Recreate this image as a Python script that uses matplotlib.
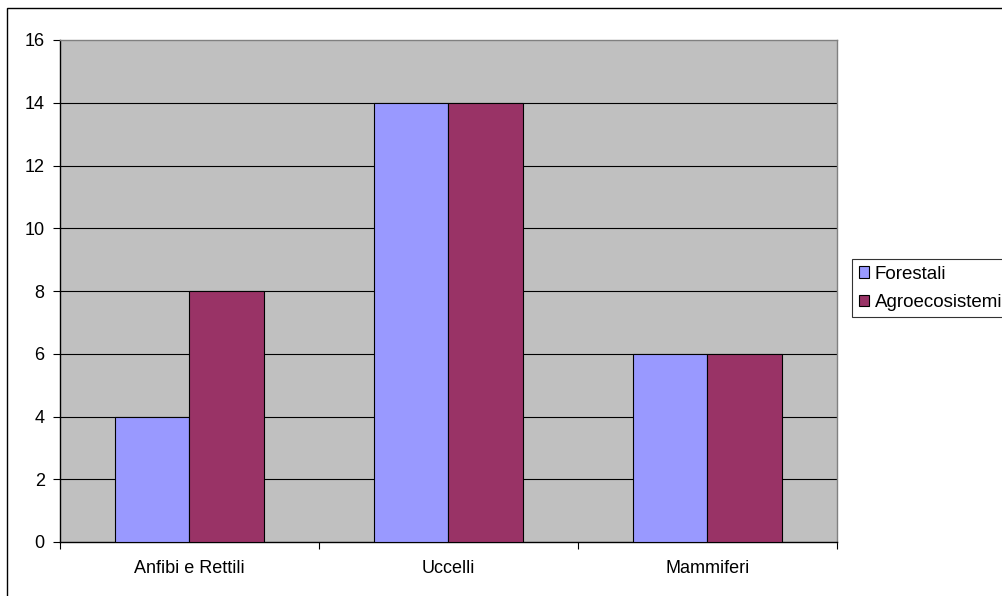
import matplotlib
matplotlib.use("Agg")
import matplotlib.pyplot as plt
from matplotlib.patches import Rectangle
import numpy as np

plt.rcParams['font.family'] = ['Liberation Sans', 'DejaVu Sans']

categories = ["Anfibi e Rettili", "Uccelli", "Mammiferi"]
forestali = [4, 14, 6]
agroecosistemi = [8, 14, 6]
series_names = ["Forestali", "Agroecosistemi"]
y_ticks = [0, 2, 4, 6, 8, 10, 12, 14, 16]

W, H = 1003, 596
fig = plt.figure(figsize=(W / 100, H / 100), dpi=100)
fig.patch.set_facecolor("white")

# outer chart frame
fig.add_artist(Rectangle((7 / W, -0.05), 1.2, 1 - 8 / H + 0.05,
                         transform=fig.transFigure, fill=False,
                         edgecolor="black", linewidth=1.0))

left, right, top, bottom = 60, 837, 40, 542
ax = fig.add_axes([left / W, 1 - bottom / H, (right - left) / W, (bottom - top) / H])
ax.set_facecolor("#C0C0C0")

x = np.arange(len(categories))
bw = 0.286
ax.bar(x - bw / 2, forestali, bw, color="#9999FF", edgecolor="black", linewidth=0.8,
       label=series_names[0], zorder=3)
ax.bar(x + bw / 2, agroecosistemi, bw, color="#993366", edgecolor="black", linewidth=0.8,
       label=series_names[1], zorder=3)

ax.set_xlim(-0.5, len(categories) - 0.5)
ax.set_ylim(0, 16)
ax.set_yticks(y_ticks)
ax.set_yticklabels([str(t) for t in y_ticks], fontsize=13)
for t in y_ticks[1:-1]:
    ax.axhline(t, color="black", linewidth=0.8, zorder=1)

ax.set_xticks(np.arange(len(categories) + 1) - 0.5, minor=False)
ax.set_xticklabels([])
ax.set_xticks(x, minor=True)
ax.set_xticklabels(categories, minor=True, fontsize=13)
ax.tick_params(axis="x", which="minor", length=0, pad=13)
ax.tick_params(axis="x", which="major", length=5, width=0.8, direction="out")
ax.tick_params(axis="y", length=5, width=0.8, direction="out", pad=6)

for side in ["top", "right"]:
    ax.spines[side].set_color("#808080")
    ax.spines[side].set_linewidth(1.0)
for side in ["left", "bottom"]:
    ax.spines[side].set_color("black")
    ax.spines[side].set_linewidth(1.0)

leg = fig.legend(loc="upper left", bbox_to_anchor=(852 / W, 1 - 259 / H),
                 fontsize=13.5, frameon=True, fancybox=False, edgecolor="black",
                 handlelength=0.55, handleheight=0.55, handletextpad=0.3,
                 borderpad=0.35, labelspacing=0.6, borderaxespad=0)
leg.get_frame().set_linewidth(0.8)

fig.savefig("out.png", dpi=100)
